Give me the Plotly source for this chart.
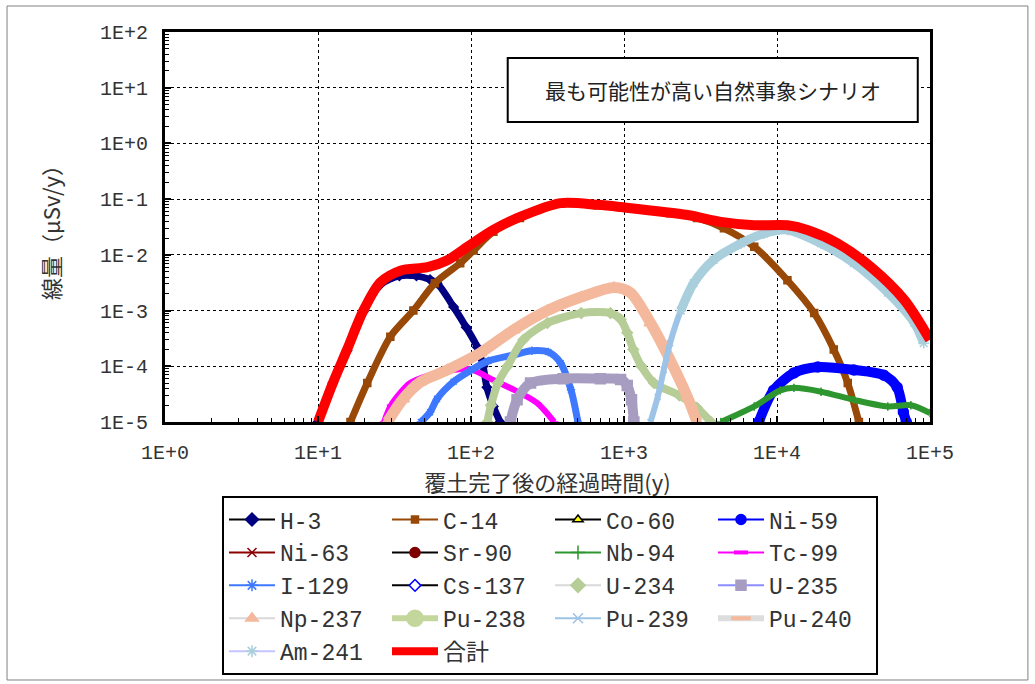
import plotly.graph_objects as go

# ---- data: elapsed time (y) and dose (uSv/y) ----
h3_t = [10, 12.5, 15.5, 19.8, 25.5, 34, 44, 54, 60, 77, 93, 110, 120, 127, 140, 155]
h3_d = [1e-5, 5e-5, 1.9e-4, 9.5e-4, 2.9e-3, 4.2e-3, 4.2e-3, 3.6e-3, 3.1e-3, 1.16e-3, 5e-4, 2.2e-4, 1e-4, 4.2e-5, 1.9e-5, 1e-5]

c14_t = [16.3, 21, 29.7, 42, 58, 85, 104, 140, 209, 385, 675, 1000, 2000, 3000, 4500, 7100, 11700, 17500, 23500, 29000, 34300]
c14_d = [1e-5, 5e-5, 3.4e-4, 1e-3, 3.1e-3, 7.1e-3, 1.2e-2, 2.6e-2, 4.6e-2, 8.3e-2, 7.8e-2, 7e-2, 5.6e-2, 4.6e-2, 3e-2, 1.4e-2, 3.5e-3, 9e-4, 2e-4, 5e-5, 1e-5]

ni59_t = [7600, 9500, 12900, 18500, 31800, 50000, 61000, 67000, 70000]
ni59_d = [1e-5, 3.7e-5, 7.6e-5, 9.7e-5, 8.6e-5, 6.9e-5, 4.2e-5, 1.5e-5, 1e-5]

nb94_t = [4300, 7100, 10500, 12900, 19400, 31800, 53000, 75000, 100000]
nb94_d = [1e-5, 1.9e-5, 3.7e-5, 4.1e-5, 3.5e-5, 2.5e-5, 1.9e-5, 2e-5, 1.45e-5]

tc99_t = [27, 30, 40, 54, 75, 98, 115, 134, 190, 270, 350]
tc99_d = [1e-5, 2e-5, 5e-5, 7e-5, 8.5e-5, 9e-5, 7.5e-5, 6e-5, 3.8e-5, 2.2e-5, 1e-5]

i129_t = [47, 54, 60, 77, 100, 130, 190, 250, 320, 385, 450, 500]
i129_d = [1e-5, 1.5e-5, 2.6e-5, 5.3e-5, 8.5e-5, 1.25e-4, 1.6e-4, 1.9e-4, 1.8e-4, 1.15e-4, 3.8e-5, 1e-5]

u234_t = [128, 135, 150, 173, 220, 316, 525, 815, 950, 1050, 1150, 1300, 1570, 2300, 3000, 3700]
u234_d = [1e-5, 2e-5, 5e-5, 1e-4, 3e-4, 6e-4, 9e-4, 9e-4, 7e-4, 4e-4, 2e-4, 1e-4, 5e-5, 3e-5, 1.8e-5, 1e-5]

u235_t = [181, 200, 245, 400, 700, 950, 1050, 1120, 1160]
u235_d = [1e-5, 2.5e-5, 5e-5, 6e-5, 6e-5, 5.8e-5, 4.5e-5, 2.5e-5, 1e-5]

np237_t = [28.4, 36, 46.6, 70, 115, 190, 316, 525, 860, 1100, 1490, 2000, 2600, 3000]
np237_d = [1e-5, 2.6e-5, 5.2e-5, 8.6e-5, 1.74e-4, 4.5e-4, 1e-3, 1.75e-3, 2.6e-3, 2.1e-3, 6e-4, 1.3e-4, 2.8e-5, 1e-5]

pu239_t = [1490, 1660, 1820, 2000, 2350, 2850]
pu239_d = [1e-5, 2.8e-5, 8.6e-5, 2.6e-4, 1e-3, 3.1e-3]

am241_t = [2350, 2850, 3850, 5800, 8200, 11700, 19400, 31800, 53000, 79000, 91000]
am241_d = [1e-3, 3.1e-3, 8.1e-3, 1.6e-2, 2.4e-2, 2.8e-2, 1.6e-2, 7.1e-3, 2.1e-3, 6e-4, 2.6e-4]

total_t = [10, 12.5, 15.5, 19.8, 25.5, 34.5, 52, 70, 95, 140, 209, 385, 675, 950, 2600, 4300, 7100, 11700, 15800, 25000, 41000, 68000, 100000]
total_d = [1e-5, 5e-5, 2e-4, 1e-3, 3.2e-3, 5.2e-3, 6e-3, 8e-3, 1.4e-2, 2.8e-2, 4.8e-2, 8.5e-2, 7.9e-2, 7.2e-2, 5.2e-2, 3.9e-2, 3.4e-2, 3.4e-2, 2.8e-2, 1.6e-2, 6.1e-3, 1.55e-3, 3e-4]

# nuclides with nothing above 1E-5 in the plotted range
empty = []

nuclides = ["H-3", "C-14", "Co-60", "Ni-59", "Ni-63", "Sr-90", "Nb-94", "Tc-99",
            "I-129", "Cs-137", "U-234", "U-235", "Np-237", "Pu-238", "Pu-239",
            "Pu-240", "Am-241", "合計"]

series = {
    "H-3": (h3_t, h3_d), "C-14": (c14_t, c14_d), "Co-60": (empty, empty),
    "Ni-59": (ni59_t, ni59_d), "Ni-63": (empty, empty), "Sr-90": (empty, empty),
    "Nb-94": (nb94_t, nb94_d), "Tc-99": (tc99_t, tc99_d), "I-129": (i129_t, i129_d),
    "Cs-137": (empty, empty), "U-234": (u234_t, u234_d), "U-235": (u235_t, u235_d),
    "Np-237": (np237_t, np237_d), "Pu-238": (empty, empty), "Pu-239": (pu239_t, pu239_d),
    "Pu-240": (empty, empty), "Am-241": (am241_t, am241_d), "合計": (total_t, total_d),
}

# style: curve colour, curve width, marker symbol, legend line colour/width,
#        legend marker colour, legend marker outline colour, legend marker size
styles = {
    "H-3":    ("#000080", 7, "diamond", "black", 2, "#000080", "#000080", 10),
    "C-14":   ("#984807", 7, "square", "#984807", 2, "#984807", "#984807", 7),
    "Co-60":  ("#FFFF00", 7, "triangle-up", "black", 2, "#FFFF00", "black", 9),
    "Ni-59":  ("#0000FF", 10, "circle", "#0000FF", 2, "#0000FF", "#0000FF", 10),
    "Ni-63":  ("#8B0000", 5, "x-thin-open", "#8B0000", 2, "#8B0000", "#8B0000", 9),
    "Sr-90":  ("#7F0000", 7, "circle", "black", 2, "#7F0000", "#7F0000", 10),
    "Nb-94":  ("#2E962E", 6, "cross-thin-open", "#2E962E", 2, "#2E962E", "#2E962E", 10),
    "Tc-99":  ("#FF00FF", 6, "line-ew-open", "#FF00FF", 2, "#FF00FF", "#FF00FF", 10),
    "I-129":  ("#3D78FF", 7, "asterisk-open", "#3D78FF", 2, "#3D78FF", "#3D78FF", 10),
    "Cs-137": ("#0000FF", 7, "diamond", "black", 2, "white", "#0000FF", 9),
    "U-234":  ("#B6CD97", 8, "diamond", "#D9D9D9", 2, "#B6CD97", "#B6CD97", 11),
    "U-235":  ("#A79DC0", 10, "square", "#8C8CFF", 2, "#A79DC0", "#A79DC0", 10),
    "Np-237": ("#F4B89C", 11, "triangle-up", "#D9D9D9", 2, "#F4B89C", "#F4B89C", 11),
    "Pu-238": ("#C3D69B", 10, "circle", "#C3D69B", 6, "#C3D69B", "#C3D69B", 16),
    "Pu-239": ("#9DC3E6", 6, "x-thin-open", "#9DC3E6", 2, "#9DC3E6", "#9DC3E6", 10),
    "Pu-240": ("#F4B89C", 8, "line-ew-open", "#DDDDDD", 6, "#F4B89C", "#F4B89C", 14),
    "Am-241": ("#A9CEDC", 9, "asterisk-open", "#C4C4FF", 2, "#A9CEDC", "#A9CEDC", 10),
    "合計":    ("#FF0000", 10, None, "#FF0000", 8, "#FF0000", "#FF0000", 0),
}

fig = go.Figure()

# curves (drawn as thick bands, like the dense marker runs of the original)
for name in nuclides:
    t, d = series[name]
    if not t:
        continue
    col, w, sym = styles[name][0], styles[name][1], styles[name][2]
    fig.add_trace(go.Scatter(
        x=t, y=d, mode="lines" if sym is None else "lines+markers",
        line=dict(color=col, width=w, shape="spline", smoothing=0.8),
        marker=dict(symbol=sym or "circle", size=w, color=col,
                    line=dict(color=col, width=1.5)),
        showlegend=False, hoverinfo="skip", name=name,
    ))

# legend entries
for name in nuclides:
    col, w, sym, lcol, lw, mcol, mline, msize = styles[name]
    fig.add_trace(go.Scatter(
        x=[None], y=[None], name=name,
        mode="lines" if sym is None else "lines+markers",
        line=dict(color=lcol, width=lw),
        marker=dict(symbol=sym or "circle", size=msize, color=mcol,
                    line=dict(color=mline, width=4 if "line-ew" in (sym or "") else 1.5)),
    ))

FONT = "Liberation Mono, Noto Sans CJK JP, monospace"
JP = "Noto Sans CJK JP, sans-serif"
TXT = "#333333"

axis_common = dict(
    type="log", showgrid=True, gridcolor="black", gridwidth=1, griddash="dot",
    showline=True, linewidth=3, linecolor="black", mirror=True,
    ticks="inside", ticklen=6, tickwidth=1.5, tickcolor="black",
    minor=dict(ticks="inside", ticklen=4, tickwidth=1, tickcolor="black",
               dtick="D1", showgrid=False),
    tickfont=dict(family=FONT, size=20, color=TXT),
    zeroline=False, fixedrange=True, automargin=False,
)

fig.update_layout(
    width=1035, height=684,
    margin=dict(l=165, r=105, t=32, b=262, autoexpand=False),
    paper_bgcolor="white", plot_bgcolor="white",
    xaxis=dict(axis_common, range=[0, 5],
               tickvals=[1, 10, 100, 1000, 10000, 100000],
               ticktext=["1E+0", "1E+1", "1E+2", "1E+3", "1E+4", "1E+5"],
               ticklabelstandoff=10,
               title=dict(text="覆土完了後の経過時間(y)", standoff=10,
                          font=dict(family=JP, size=22, color=TXT))),
    yaxis=dict(axis_common, range=[-5, 2],
               tickvals=[1e-5, 1e-4, 1e-3, 1e-2, 1e-1, 1, 10, 100],
               ticktext=["1E-5", "1E-4", "1E-3", "1E-2", "1E-1", "1E+0", "1E+1", "1E+2"],
               ticklabelstandoff=10,
               title=dict(text="線量（μSv/y）", standoff=34,
                          font=dict(family=JP, size=22, color=TXT))),
    legend=dict(
        orientation="h", x=0.0745, y=-0.19, xanchor="left", yanchor="top",
        entrywidth=102, entrywidthmode="pixels", itemwidth=46,
        bgcolor="white", bordercolor="black", borderwidth=2,
        font=dict(family=FONT, size=23, color=TXT), traceorder="normal",
        itemclick=False, itemdoubleclick=False,
    ),
    shapes=[
        # outer frame of the figure
        dict(type="rect", xref="paper", yref="paper", x0=-0.2065, x1=1.128,
             y0=-0.6615, y1=1.0667, line=dict(color="#808080", width=1)),
        # scenario label box
        dict(type="rect", xref="paper", yref="paper", x0=0.448, x1=0.984,
             y0=0.7692, y1=0.9333, fillcolor="white", layer="above",
             line=dict(color="black", width=2)),
    ],
    annotations=[
        dict(text="最も可能性が高い自然事象シナリオ", xref="paper", yref="paper",
             x=0.716, y=0.851, xanchor="center", yanchor="middle", showarrow=False,
             font=dict(family=JP, size=21, color="#222222")),
    ],
)

# drop the default page margin so the figure sits at the window origin
fig.write_html("out.html", config={"displayModeBar": False},
               post_script="document.body.style.margin='0px';")
